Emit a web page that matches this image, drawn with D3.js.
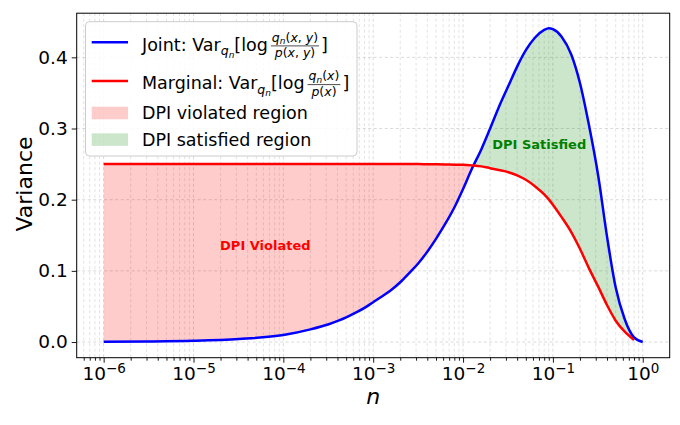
<!DOCTYPE html>
<html><head><meta charset="utf-8">
<script src="https://cdn.jsdelivr.net/npm/d3@7"></script>
<style>
body{margin:0;background:#fff}
svg{display:block}
text{font-family:"DejaVu Sans",sans-serif;white-space:pre}
</style>
</head><body><svg id="c" width="680" height="425"></svg>
<script>
// ---- data ----
const nValues = [1e-6, 3.2e-6, 1e-5, 3.2e-5, 1e-4, 2e-4, 3.2e-4, 5e-4, 6.3e-4, 8e-4,
  1e-3, 1.25e-3, 1.6e-3, 2e-3, 2.5e-3, 3.2e-3, 4e-3, 5e-3, 6.3e-3, 8e-3,
  0.01, 0.0125, 0.016, 0.02, 0.025, 0.032, 0.04, 0.05, 0.063, 0.08, 0.09,
  0.1, 0.125, 0.16, 0.2, 0.25, 0.32, 0.4, 0.5, 0.63, 0.8, 1.0];
const jointVar = [0.0003, 0.0007, 0.0017, 0.0042, 0.0098, 0.0178, 0.025, 0.0345, 0.041, 0.048,
  0.056, 0.064, 0.0735, 0.084, 0.0965, 0.111, 0.127, 0.145, 0.1655, 0.189,
  0.215, 0.243, 0.271, 0.300, 0.330, 0.360, 0.387, 0.410, 0.4275, 0.4385, 0.441,
  0.4395, 0.429, 0.404, 0.364, 0.307, 0.233, 0.1485, 0.0765, 0.032, 0.0065, 0.0];
const marginalVar = [0.25, 0.25, 0.25, 0.25, 0.25, 0.25, 0.25, 0.25, 0.25, 0.25,
  0.25, 0.25, 0.25, 0.25, 0.25, 0.25, 0.2499, 0.2497, 0.2495, 0.2492,
  0.249, 0.2482, 0.2468, 0.2443, 0.2417, 0.2386, 0.2342, 0.228, 0.219, 0.2075, 0.2005,
  0.193, 0.1755, 0.1545, 0.131, 0.1045, 0.0775, 0.052, 0.030, 0.0145, 0.003, null];
const yTicks = [0.0, 0.1, 0.2, 0.3, 0.4];
const xTickExponents = [-6, -5, -4, -3, -2, -1, 0];
const annotationTexts = ["DPI Violated", "DPI Satisfied"];
const annotationPos = [[6.3e-5, 0.135], [0.0705, 0.2776]];
const legendPatchLabels = ["DPI violated region", "DPI satisfied region"];
const axisLabels = {x: "n", y: "Variance"};

// ---- layout ----
const svg = d3.select("#c");
const L = 76.7, R = 669.7, T = 13.2, B = 357.7;
const x = d3.scaleLog().domain([Math.pow(10, -6.3), Math.pow(10, 0.3)]).range([L, R]);
const y = d3.scaleLinear().domain([-0.022, 0.462]).range([B, T]);

const BLUE = "#0000ff", RED = "#ff0000", GREEN = "#008000";

// grid
const majorX = xTickExponents.map(e => Math.pow(10, e));
const minorX = [];
for (let e = -7; e <= 0; e++) for (let k = 2; k <= 9; k++) {
  const v = k * Math.pow(10, e);
  if (v > x.domain()[0] && v < x.domain()[1]) minorX.push(v);
}
const grid = svg.append("g");
grid.selectAll(".gxm").data(minorX).join("line")
  .attr("x1", d => x(d)).attr("x2", d => x(d)).attr("y1", T).attr("y2", B)
  .attr("stroke", "#b0b0b0").attr("stroke-opacity", 0.5).attr("stroke-width", 0.7)
  .attr("stroke-dasharray", "3,2.5");
grid.selectAll(".gxM").data(majorX).join("line")
  .attr("x1", d => x(d)).attr("x2", d => x(d)).attr("y1", T).attr("y2", B)
  .attr("stroke", "#b0b0b0").attr("stroke-opacity", 0.6).attr("stroke-width", 0.8)
  .attr("stroke-dasharray", "3,2.5");
grid.selectAll(".gy").data(yTicks).join("line")
  .attr("x1", L).attr("x2", R).attr("y1", d => y(d)).attr("y2", d => y(d))
  .attr("stroke", "#b0b0b0").attr("stroke-opacity", 0.6).attr("stroke-width", 0.8)
  .attr("stroke-dasharray", "3,2.5");

// data & fills
const pts = nValues.map((n, i) => ({n, j: jointVar[i], m: marginalVar[i]}));
const both = pts.filter(d => d.m !== null);
let cross = null;
for (let i = 1; i < both.length; i++) {
  const a = both[i - 1], b = both[i];
  const da = a.m - a.j, db = b.m - b.j;
  if (da > 0 && db <= 0) {
    const t = da / (da - db);
    const ln = Math.log10(a.n) + t * (Math.log10(b.n) - Math.log10(a.n));
    const v = a.j + t * (b.j - a.j);
    cross = {n: Math.pow(10, ln), j: v, m: v};
  }
}
const violated = both.filter(d => d.n < cross.n).concat([cross]);
const satisfied = [cross].concat(both.filter(d => d.n > cross.n));
const area = d3.area().x(d => x(d.n)).y0(d => y(d.j)).y1(d => y(d.m)).curve(d3.curveMonotoneX);
svg.append("path").datum(violated).attr("d", area).attr("fill", RED).attr("fill-opacity", 0.2);
svg.append("path").datum(satisfied).attr("d", area).attr("fill", GREEN).attr("fill-opacity", 0.2);

const lineJ = d3.line().x(d => x(d.n)).y(d => y(d.j)).curve(d3.curveMonotoneX);
const lineM = d3.line().defined(d => d.m !== null).x(d => x(d.n)).y(d => y(d.m)).curve(d3.curveMonotoneX);
svg.append("path").datum(pts).attr("d", lineJ).attr("fill", "none").attr("stroke", BLUE).attr("stroke-width", 2.5);
svg.append("path").datum(pts).attr("d", lineM).attr("fill", "none").attr("stroke", RED).attr("stroke-width", 2.5);

// annotations
const annColors = [RED, GREEN];
annotationTexts.forEach((t, i) => {
  svg.append("text").attr("x", x(annotationPos[i][0])).attr("y", y(annotationPos[i][1]))
    .attr("text-anchor", "middle").attr("dominant-baseline", "central")
    .attr("font-weight", "bold").attr("font-size", 13).attr("fill", annColors[i]).text(t);
});

// axes
const yAxis = svg.append("g").attr("transform", `translate(${L},0)`)
  .call(d3.axisLeft(y).tickValues(yTicks).tickFormat(d3.format(".1f")).tickSize(5).tickPadding(4));
yAxis.selectAll("text").attr("font-size", 18.5).attr("font-family", "DejaVu Sans").attr("fill", "#000");
const xAxisMinor = svg.append("g").attr("transform", `translate(0,${B})`)
  .call(d3.axisBottom(x).tickValues(minorX).tickFormat("").tickSize(3));
const xAxis = svg.append("g").attr("transform", `translate(0,${B})`)
  .call(d3.axisBottom(x).tickValues(majorX).tickFormat("").tickSize(5));
[yAxis, xAxis, xAxisMinor].forEach(a => {
  a.select(".domain").remove();
  a.selectAll("line").attr("stroke", "#000").attr("stroke-width", 0.9);
});
xAxis.selectAll(".tick").each(function (d, i) {
  const t = d3.select(this).append("text").attr("y", 22.5).attr("text-anchor", "middle")
    .attr("fill", "#000").attr("font-size", 18.5).attr("font-family", "DejaVu Sans");
  t.append("tspan").text("10");
  t.append("tspan").attr("dy", -7.5).attr("font-size", 13.5)
    .text(xTickExponents[i] < 0 ? "\u2212" + (-xTickExponents[i]) : String(xTickExponents[i]));
});

// frame
svg.append("rect").attr("x", L).attr("y", T).attr("width", R - L).attr("height", B - T)
  .attr("fill", "none").attr("stroke", "#000").attr("stroke-width", 1);

// axis labels
svg.append("text").attr("x", (L + R) / 2).attr("y", 403.5).attr("text-anchor", "middle")
  .attr("font-size", 22).attr("font-style", "italic").text(axisLabels.x);
svg.append("text").attr("transform", "translate(31.5,184) rotate(-90)").attr("text-anchor", "middle")
  .attr("font-size", 22).text(axisLabels.y);

// legend
const lg = svg.append("g");
lg.append("rect").attr("x", 85.5).attr("y", 21.7).attr("width", 271.5).attr("height", 134.3)
  .attr("rx", 4).attr("fill", "#fff").attr("fill-opacity", 0.85).attr("stroke", "#cccccc").attr("stroke-width", 1);
lg.append("line").attr("x1", 91.7).attr("x2", 128).attr("y1", 42.3).attr("y2", 42.3).attr("stroke", BLUE).attr("stroke-width", 2.5);
lg.append("line").attr("x1", 91.7).attr("x2", 128).attr("y1", 81).attr("y2", 81).attr("stroke", RED).attr("stroke-width", 2.5);
lg.append("rect").attr("x", 91.7).attr("y", 106.7).attr("width", 36.3).attr("height", 12.6).attr("fill", RED).attr("fill-opacity", 0.2);
lg.append("rect").attr("x", 91.7).attr("y", 133.3).attr("width", 36.3).attr("height", 12.6).attr("fill", GREEN).attr("fill-opacity", 0.2);

const F = 17.5, S = 12.5, SS = 9;
function seq(g, pieces) {
  let cx = 0;
  pieces.forEach(p => {
    if (p.gap) { cx += p.gap; return; }
    const t = g.append("text").attr("x", cx).attr("y", p.dy || 0).attr("font-size", p.s)
      .attr("font-style", p.i ? "italic" : "normal").attr("fill", "#000").text(p.t);
    cx += t.node().getComputedTextLength();
  });
  return cx;
}
function mathRow(x0, base, pieces) {
  const g = lg.append("g").attr("transform", `translate(${x0},${base})`);
  let cx = 0;
  pieces.forEach(p => {
    if (p.frac) {
      const ng = g.append("g"), dg = g.append("g");
      const wn = seq(ng, p.frac[0]), wd = seq(dg, p.frac[1]);
      const w = Math.max(wn, wd) + 2;
      ng.attr("transform", `translate(${cx + 1 + (w - wn) / 2},-9)`);
      dg.attr("transform", `translate(${cx + 1 + (w - wd) / 2},6.5)`);
      g.append("line").attr("x1", cx + 1).attr("x2", cx + 1 + w).attr("y1", -4.6).attr("y2", -4.6)
        .attr("stroke", "#000").attr("stroke-width", 0.7);
      cx += w + 3;
    } else {
      const sub = g.append("g").attr("transform", `translate(${cx},0)`);
      cx += seq(sub, [p]);
    }
  });
}
const qn = (s1, s2, d) => [{t: "q", s: s1, i: true, dy: d}, {t: "n", s: s2, i: true, dy: d + 2.5}];
mathRow(142, 50.5, [
  {t: "Joint: Var", s: F}, ...qn(S, SS, 4.5), {t: "[log", s: F}, {gap: 2},
  {frac: [[...qn(S, SS, 0), {t: "(", s: S}, {t: "x", s: S, i: true}, {t: ", ", s: S}, {t: "y", s: S, i: true}, {t: ")", s: S}],
          [{t: "p", s: S, i: true}, {t: "(", s: S}, {t: "x", s: S, i: true}, {t: ", ", s: S}, {t: "y", s: S, i: true}, {t: ")", s: S}]]},
  {t: "]", s: F}
]);
mathRow(142, 89.2, [
  {t: "Marginal: Var", s: F}, ...qn(S, SS, 4.5), {t: "[log", s: F}, {gap: 2},
  {frac: [[...qn(S, SS, 0), {t: "(", s: S}, {t: "x", s: S, i: true}, {t: ")", s: S}],
          [{t: "p", s: S, i: true}, {t: "(", s: S}, {t: "x", s: S, i: true}, {t: ")", s: S}]]},
  {t: "]", s: F}
]);
lg.append("text").attr("x", 142).attr("y", 119.3).attr("font-size", F).text(legendPatchLabels[0]);
lg.append("text").attr("x", 142).attr("y", 146).attr("font-size", F).text(legendPatchLabels[1]);
</script>
</body></html>
